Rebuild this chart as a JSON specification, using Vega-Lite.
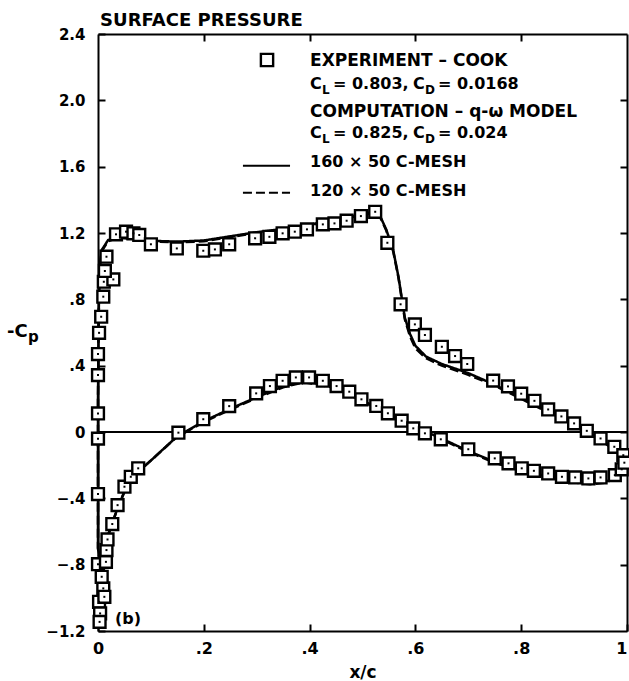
{
  "$schema": "https://vega.github.io/schema/vega-lite/v6.json",
  "width": 529,
  "height": 597,
  "autosize": {"type": "none"},
  "padding": {"left": 98, "top": 34, "right": 2, "bottom": 50},
  "background": "white",
  "config": {
    "view": {"stroke": null},
    "text": {"font": "DejaVu Sans", "fontWeight": "bold", "fontSize": 16, "align": "left", "baseline": "alphabetic", "color": "black"}
  },
  "datasets": {
    "one": [{}],
    "experiment": [
      {"x": 0.000, "y": 0.112}, {"x": 0.000, "y": 0.343}, {"x": 0.000, "y": 0.470}, {"x": 0.002, "y": 0.598},
      {"x": 0.006, "y": 0.695}, {"x": 0.010, "y": 0.816}, {"x": 0.011, "y": 0.906}, {"x": 0.029, "y": 0.920},
      {"x": 0.013, "y": 0.971}, {"x": 0.016, "y": 1.057}, {"x": 0.034, "y": 1.192}, {"x": 0.053, "y": 1.208},
      {"x": 0.067, "y": 1.198}, {"x": 0.078, "y": 1.188}, {"x": 0.100, "y": 1.132}, {"x": 0.149, "y": 1.107},
      {"x": 0.199, "y": 1.093}, {"x": 0.221, "y": 1.101}, {"x": 0.248, "y": 1.132}, {"x": 0.297, "y": 1.168},
      {"x": 0.324, "y": 1.177}, {"x": 0.349, "y": 1.198}, {"x": 0.372, "y": 1.208}, {"x": 0.395, "y": 1.222},
      {"x": 0.425, "y": 1.252}, {"x": 0.447, "y": 1.258}, {"x": 0.470, "y": 1.274}, {"x": 0.497, "y": 1.302},
      {"x": 0.524, "y": 1.328}, {"x": 0.547, "y": 1.141}, {"x": 0.572, "y": 0.770}, {"x": 0.599, "y": 0.649},
      {"x": 0.618, "y": 0.585}, {"x": 0.650, "y": 0.514}, {"x": 0.675, "y": 0.458}, {"x": 0.698, "y": 0.410},
      {"x": 0.747, "y": 0.310}, {"x": 0.775, "y": 0.275}, {"x": 0.800, "y": 0.231}, {"x": 0.825, "y": 0.188},
      {"x": 0.851, "y": 0.136}, {"x": 0.876, "y": 0.094}, {"x": 0.900, "y": 0.052}, {"x": 0.924, "y": 0.007},
      {"x": 0.950, "y": -0.039}, {"x": 0.976, "y": -0.089}, {"x": 0.993, "y": -0.140},
      {"x": 0.000, "y": -0.040}, {"x": 0.000, "y": -0.374}, {"x": 0.000, "y": -0.797}, {"x": 0.002, "y": -1.024},
      {"x": 0.004, "y": -1.094}, {"x": 0.003, "y": -1.145}, {"x": 0.010, "y": -0.943}, {"x": 0.012, "y": -0.994},
      {"x": 0.007, "y": -0.873}, {"x": 0.015, "y": -0.783}, {"x": 0.016, "y": -0.712}, {"x": 0.018, "y": -0.648},
      {"x": 0.027, "y": -0.555}, {"x": 0.037, "y": -0.441}, {"x": 0.050, "y": -0.330}, {"x": 0.062, "y": -0.270},
      {"x": 0.076, "y": -0.219}, {"x": 0.152, "y": -0.004}, {"x": 0.199, "y": 0.077}, {"x": 0.248, "y": 0.156},
      {"x": 0.299, "y": 0.233}, {"x": 0.325, "y": 0.277}, {"x": 0.349, "y": 0.309}, {"x": 0.374, "y": 0.329},
      {"x": 0.399, "y": 0.329}, {"x": 0.425, "y": 0.309}, {"x": 0.451, "y": 0.277}, {"x": 0.475, "y": 0.243},
      {"x": 0.498, "y": 0.197}, {"x": 0.526, "y": 0.157}, {"x": 0.548, "y": 0.113}, {"x": 0.574, "y": 0.068},
      {"x": 0.596, "y": 0.022}, {"x": 0.618, "y": -0.008}, {"x": 0.648, "y": -0.044}, {"x": 0.700, "y": -0.104},
      {"x": 0.750, "y": -0.159}, {"x": 0.776, "y": -0.189}, {"x": 0.801, "y": -0.219}, {"x": 0.824, "y": -0.234},
      {"x": 0.851, "y": -0.250}, {"x": 0.877, "y": -0.270}, {"x": 0.902, "y": -0.274}, {"x": 0.927, "y": -0.280},
      {"x": 0.950, "y": -0.274}, {"x": 0.977, "y": -0.260}, {"x": 0.990, "y": -0.225}, {"x": 0.995, "y": -0.185}
    ],
    "computed": [
      {"mesh": "160", "k": 1, "x": 1.0, "y": -0.2}, {"mesh": "160", "k": 2, "x": 0.98, "y": -0.11},
      {"mesh": "160", "k": 3, "x": 0.95, "y": -0.045}, {"mesh": "160", "k": 4, "x": 0.9, "y": 0.045},
      {"mesh": "160", "k": 5, "x": 0.85, "y": 0.125}, {"mesh": "160", "k": 6, "x": 0.8, "y": 0.205},
      {"mesh": "160", "k": 7, "x": 0.75, "y": 0.285}, {"mesh": "160", "k": 8, "x": 0.7, "y": 0.355},
      {"mesh": "160", "k": 9, "x": 0.65, "y": 0.41}, {"mesh": "160", "k": 10, "x": 0.62, "y": 0.455},
      {"mesh": "160", "k": 11, "x": 0.6, "y": 0.52}, {"mesh": "160", "k": 12, "x": 0.59, "y": 0.59},
      {"mesh": "160", "k": 13, "x": 0.58, "y": 0.69}, {"mesh": "160", "k": 14, "x": 0.568, "y": 0.936},
      {"mesh": "160", "k": 15, "x": 0.558, "y": 1.097}, {"mesh": "160", "k": 16, "x": 0.545, "y": 1.22},
      {"mesh": "160", "k": 17, "x": 0.535, "y": 1.29}, {"mesh": "160", "k": 18, "x": 0.525, "y": 1.335},
      {"mesh": "160", "k": 19, "x": 0.5, "y": 1.31}, {"mesh": "160", "k": 20, "x": 0.47, "y": 1.293},
      {"mesh": "160", "k": 21, "x": 0.4, "y": 1.25}, {"mesh": "160", "k": 22, "x": 0.35, "y": 1.225},
      {"mesh": "160", "k": 23, "x": 0.3, "y": 1.205}, {"mesh": "160", "k": 24, "x": 0.25, "y": 1.18},
      {"mesh": "160", "k": 25, "x": 0.2, "y": 1.155}, {"mesh": "160", "k": 26, "x": 0.15, "y": 1.148},
      {"mesh": "160", "k": 27, "x": 0.1, "y": 1.153}, {"mesh": "160", "k": 28, "x": 0.076, "y": 1.162},
      {"mesh": "160", "k": 29, "x": 0.05, "y": 1.172}, {"mesh": "160", "k": 30, "x": 0.038, "y": 1.177},
      {"mesh": "160", "k": 31, "x": 0.019, "y": 1.157}, {"mesh": "160", "k": 32, "x": 0.007, "y": 1.097},
      {"mesh": "160", "k": 33, "x": 0.004, "y": 1.017}, {"mesh": "160", "k": 34, "x": 0.002, "y": 0.85},
      {"mesh": "160", "k": 35, "x": 0.001, "y": 0.6}, {"mesh": "160", "k": 36, "x": 0.0, "y": 0.2},
      {"mesh": "160", "k": 37, "x": 0.0, "y": -0.3}, {"mesh": "160", "k": 38, "x": 0.0, "y": -0.7},
      {"mesh": "160", "k": 39, "x": 0.002, "y": -0.75}, {"mesh": "160", "k": 40, "x": 0.006, "y": -0.72},
      {"mesh": "160", "k": 41, "x": 0.01, "y": -0.68}, {"mesh": "160", "k": 42, "x": 0.018, "y": -0.632},
      {"mesh": "160", "k": 43, "x": 0.027, "y": -0.55}, {"mesh": "160", "k": 44, "x": 0.038, "y": -0.45},
      {"mesh": "160", "k": 45, "x": 0.05, "y": -0.36}, {"mesh": "160", "k": 46, "x": 0.064, "y": -0.29},
      {"mesh": "160", "k": 47, "x": 0.076, "y": -0.24}, {"mesh": "160", "k": 48, "x": 0.101, "y": -0.169},
      {"mesh": "160", "k": 49, "x": 0.149, "y": -0.028}, {"mesh": "160", "k": 50, "x": 0.2, "y": 0.065},
      {"mesh": "160", "k": 51, "x": 0.25, "y": 0.14}, {"mesh": "160", "k": 52, "x": 0.3, "y": 0.21},
      {"mesh": "160", "k": 53, "x": 0.35, "y": 0.275}, {"mesh": "160", "k": 54, "x": 0.39, "y": 0.305},
      {"mesh": "160", "k": 55, "x": 0.45, "y": 0.27}, {"mesh": "160", "k": 56, "x": 0.5, "y": 0.19},
      {"mesh": "160", "k": 57, "x": 0.55, "y": 0.11}, {"mesh": "160", "k": 58, "x": 0.6, "y": 0.03},
      {"mesh": "160", "k": 59, "x": 0.65, "y": -0.04}, {"mesh": "160", "k": 60, "x": 0.7, "y": -0.115},
      {"mesh": "160", "k": 61, "x": 0.75, "y": -0.18}, {"mesh": "160", "k": 62, "x": 0.8, "y": -0.23},
      {"mesh": "160", "k": 63, "x": 0.85, "y": -0.27}, {"mesh": "160", "k": 64, "x": 0.9, "y": -0.3},
      {"mesh": "160", "k": 65, "x": 0.93, "y": -0.31}, {"mesh": "160", "k": 66, "x": 0.96, "y": -0.3},
      {"mesh": "160", "k": 67, "x": 0.98, "y": -0.27}, {"mesh": "160", "k": 68, "x": 1.0, "y": -0.2},
      {"mesh": "120", "k": 1, "x": 1.0, "y": -0.2}, {"mesh": "120", "k": 2, "x": 0.98, "y": -0.115},
      {"mesh": "120", "k": 3, "x": 0.95, "y": -0.05}, {"mesh": "120", "k": 4, "x": 0.9, "y": 0.04},
      {"mesh": "120", "k": 5, "x": 0.85, "y": 0.12}, {"mesh": "120", "k": 6, "x": 0.8, "y": 0.2},
      {"mesh": "120", "k": 7, "x": 0.75, "y": 0.28}, {"mesh": "120", "k": 8, "x": 0.7, "y": 0.345},
      {"mesh": "120", "k": 9, "x": 0.65, "y": 0.4}, {"mesh": "120", "k": 10, "x": 0.62, "y": 0.445},
      {"mesh": "120", "k": 11, "x": 0.6, "y": 0.505}, {"mesh": "120", "k": 12, "x": 0.59, "y": 0.575},
      {"mesh": "120", "k": 13, "x": 0.58, "y": 0.68}, {"mesh": "120", "k": 14, "x": 0.568, "y": 0.93},
      {"mesh": "120", "k": 15, "x": 0.558, "y": 1.09}, {"mesh": "120", "k": 16, "x": 0.545, "y": 1.215},
      {"mesh": "120", "k": 17, "x": 0.535, "y": 1.285}, {"mesh": "120", "k": 18, "x": 0.525, "y": 1.33},
      {"mesh": "120", "k": 19, "x": 0.5, "y": 1.305}, {"mesh": "120", "k": 20, "x": 0.47, "y": 1.29},
      {"mesh": "120", "k": 21, "x": 0.4, "y": 1.247}, {"mesh": "120", "k": 22, "x": 0.35, "y": 1.222},
      {"mesh": "120", "k": 23, "x": 0.3, "y": 1.2}, {"mesh": "120", "k": 24, "x": 0.25, "y": 1.176},
      {"mesh": "120", "k": 25, "x": 0.2, "y": 1.15}, {"mesh": "120", "k": 26, "x": 0.15, "y": 1.143},
      {"mesh": "120", "k": 27, "x": 0.1, "y": 1.15}, {"mesh": "120", "k": 28, "x": 0.076, "y": 1.16},
      {"mesh": "120", "k": 29, "x": 0.05, "y": 1.168}, {"mesh": "120", "k": 30, "x": 0.038, "y": 1.172},
      {"mesh": "120", "k": 31, "x": 0.019, "y": 1.15}, {"mesh": "120", "k": 32, "x": 0.007, "y": 1.09},
      {"mesh": "120", "k": 33, "x": 0.004, "y": 1.01}, {"mesh": "120", "k": 34, "x": 0.002, "y": 0.84},
      {"mesh": "120", "k": 35, "x": 0.001, "y": 0.6}, {"mesh": "120", "k": 36, "x": 0.0, "y": 0.2},
      {"mesh": "120", "k": 37, "x": 0.0, "y": -0.3}, {"mesh": "120", "k": 38, "x": 0.0, "y": -0.7},
      {"mesh": "120", "k": 39, "x": 0.002, "y": -0.75}, {"mesh": "120", "k": 40, "x": 0.006, "y": -0.72},
      {"mesh": "120", "k": 41, "x": 0.01, "y": -0.68}, {"mesh": "120", "k": 42, "x": 0.018, "y": -0.632},
      {"mesh": "120", "k": 43, "x": 0.027, "y": -0.55}, {"mesh": "120", "k": 44, "x": 0.038, "y": -0.45},
      {"mesh": "120", "k": 45, "x": 0.05, "y": -0.36}, {"mesh": "120", "k": 46, "x": 0.064, "y": -0.29},
      {"mesh": "120", "k": 47, "x": 0.076, "y": -0.24}, {"mesh": "120", "k": 48, "x": 0.101, "y": -0.169},
      {"mesh": "120", "k": 49, "x": 0.149, "y": -0.03}, {"mesh": "120", "k": 50, "x": 0.2, "y": 0.06},
      {"mesh": "120", "k": 51, "x": 0.25, "y": 0.135}, {"mesh": "120", "k": 52, "x": 0.3, "y": 0.205},
      {"mesh": "120", "k": 53, "x": 0.35, "y": 0.27}, {"mesh": "120", "k": 54, "x": 0.39, "y": 0.3},
      {"mesh": "120", "k": 55, "x": 0.45, "y": 0.265}, {"mesh": "120", "k": 56, "x": 0.5, "y": 0.185},
      {"mesh": "120", "k": 57, "x": 0.55, "y": 0.105}, {"mesh": "120", "k": 58, "x": 0.6, "y": 0.025},
      {"mesh": "120", "k": 59, "x": 0.65, "y": -0.045}, {"mesh": "120", "k": 60, "x": 0.7, "y": -0.12},
      {"mesh": "120", "k": 61, "x": 0.75, "y": -0.185}, {"mesh": "120", "k": 62, "x": 0.8, "y": -0.235},
      {"mesh": "120", "k": 63, "x": 0.85, "y": -0.275}, {"mesh": "120", "k": 64, "x": 0.9, "y": -0.305},
      {"mesh": "120", "k": 65, "x": 0.93, "y": -0.315}, {"mesh": "120", "k": 66, "x": 0.96, "y": -0.305},
      {"mesh": "120", "k": 67, "x": 0.98, "y": -0.275}, {"mesh": "120", "k": 68, "x": 1.0, "y": -0.2}
    ]
  },
  "resolve": {"axis": {"x": "independent", "y": "independent"}},
  "layer": [
    {
      "data": {"name": "computed"},
      "mark": {"type": "line", "color": "black", "strokeWidth": 2.5},
      "encoding": {
        "x": {"field": "x", "type": "quantitative", "scale": {"domain": [0, 1], "nice": false, "zero": false},
          "axis": {"orient": "bottom", "values": [0, 0.2, 0.4, 0.6, 0.8, 1], "grid": false, "tickSize": -7, "tickWidth": 2, "tickColor": "black", "domainColor": "black", "domainWidth": 2,
            "labelFont": "DejaVu Sans", "labelFontWeight": "bold", "labelFontSize": 16, "labelColor": "black", "labelPadding": 16, "labelFlush": false,
            "labelAlign": {"condition": {"test": "datum.value == 1", "value": "right"}, "value": "center"},
            "labelExpr": "datum.value == 0 ? '0' : datum.value == 1 ? '1' : replace(format(datum.value, '.1f'), '0.', '.')",
            "title": "x/c", "titleFont": "DejaVu Sans", "titleFontSize": 17, "titleFontWeight": "bold", "titleColor": "black", "titlePadding": 8}},
        "y": {"field": "y", "type": "quantitative", "scale": {"domain": [-1.2, 2.4], "nice": false, "zero": false},
          "axis": {"orient": "left", "values": [-1.2, -0.8, -0.4, 0, 0.4, 0.8, 1.2, 1.6, 2.0, 2.4], "grid": false, "tickSize": -7, "tickWidth": 2, "tickColor": "black", "domainColor": "black", "domainWidth": 2,
            "labelFont": "DejaVu Sans", "labelFontWeight": "bold", "labelFontSize": 15, "labelColor": "black", "labelPadding": 20, "labelFlush": false,
            "labelExpr": "datum.value == 0 ? '0' : replace(format(datum.value, '.1f'), '0.', '.')",
            "title": null}},
        "order": {"field": "k", "type": "quantitative"},
        "detail": {"field": "mesh"},
        "strokeDash": {"field": "mesh", "type": "nominal", "scale": {"domain": ["160", "120"], "range": [[1, 0], [9, 4]]}, "legend": null}
      }
    },
    {
      "data": {"name": "one"},
      "mark": {"type": "rule", "color": "black", "strokeWidth": 2},
      "encoding": {"y": {"datum": 0, "axis": null}}
    },
    {
      "data": {"name": "experiment"},
      "mark": {"type": "point", "shape": "square", "filled": false, "fill": "white", "fillOpacity": 1, "stroke": "black", "strokeWidth": 2.4, "size": 140, "opacity": 1},
      "encoding": {
        "x": {"field": "x", "type": "quantitative", "axis": {"orient": "top", "values": [0.2, 0.4, 0.6, 0.8], "grid": false, "labels": false, "title": null, "tickSize": -7, "tickWidth": 2, "tickColor": "black", "domainColor": "black", "domainWidth": 2}},
        "y": {"field": "y", "type": "quantitative", "axis": {"orient": "right", "values": [-0.8, -0.4, 0, 0.4, 0.8, 1.2, 1.6, 2.0], "grid": false, "labels": false, "title": null, "tickSize": -7, "tickWidth": 2, "tickColor": "black", "domainColor": "black", "domainWidth": 2}}
      }
    },
    {
      "data": {"name": "experiment"},
      "mark": {"type": "point", "shape": "square", "filled": true, "color": "black", "size": 4, "opacity": 1},
      "encoding": {
        "x": {"field": "x", "type": "quantitative", "axis": null},
        "y": {"field": "y", "type": "quantitative", "axis": null}
      }
    },
    {
      "data": {"name": "one"},
      "mark": {"type": "point", "shape": "square", "filled": false, "fill": "white", "fillOpacity": 1, "stroke": "black", "strokeWidth": 2.4, "size": 150, "opacity": 1},
      "encoding": {"x": {"datum": 0.3195, "axis": null}, "y": {"datum": 2.243, "axis": null}}
    },
    {
      "data": {"name": "one"},
      "mark": {"type": "rule", "color": "black", "strokeWidth": 2},
      "encoding": {"x": {"datum": 0.274, "axis": null}, "x2": {"datum": 0.363}, "y": {"datum": 1.606, "axis": null}}
    },
    {
      "data": {"name": "one"},
      "mark": {"type": "rule", "color": "black", "strokeWidth": 2, "strokeDash": [9, 4]},
      "encoding": {"x": {"datum": 0.274, "axis": null}, "x2": {"datum": 0.363}, "y": {"datum": 1.443, "axis": null}}
    },
    {"data": {"name": "one"}, "mark": {"type": "text", "text": "SURFACE PRESSURE", "fontSize": 18}, "encoding": {"x": {"datum": 0.004, "axis": null}, "y": {"datum": 2.448, "axis": null}}},
    {"data": {"name": "one"}, "mark": {"type": "text", "text": "EXPERIMENT – COOK", "fontSize": 17}, "encoding": {"x": {"datum": 0.4008, "axis": null}, "y": {"datum": 2.207, "axis": null}}},
    {"data": {"name": "one"}, "mark": {"type": "text", "text": "C"}, "encoding": {"x": {"datum": 0.4008, "axis": null}, "y": {"datum": 2.0665, "axis": null}}},
    {"data": {"name": "one"}, "mark": {"type": "text", "text": "L", "fontSize": 12}, "encoding": {"x": {"datum": 0.4234, "axis": null}, "y": {"datum": 2.038, "axis": null}}},
    {"data": {"name": "one"}, "mark": {"type": "text", "text": "= 0.803,"}, "encoding": {"x": {"datum": 0.4442, "axis": null}, "y": {"datum": 2.0665, "axis": null}}},
    {"data": {"name": "one"}, "mark": {"type": "text", "text": "C"}, "encoding": {"x": {"datum": 0.5955, "axis": null}, "y": {"datum": 2.0665, "axis": null}}},
    {"data": {"name": "one"}, "mark": {"type": "text", "text": "D", "fontSize": 12}, "encoding": {"x": {"datum": 0.6182, "axis": null}, "y": {"datum": 2.038, "axis": null}}},
    {"data": {"name": "one"}, "mark": {"type": "text", "text": "= 0.0168"}, "encoding": {"x": {"datum": 0.6427, "axis": null}, "y": {"datum": 2.0665, "axis": null}}},
    {"data": {"name": "one"}, "mark": {"type": "text", "text": "COMPUTATION – q-ω MODEL", "fontSize": 17}, "encoding": {"x": {"datum": 0.4008, "axis": null}, "y": {"datum": 1.8976, "axis": null}}},
    {"data": {"name": "one"}, "mark": {"type": "text", "text": "C"}, "encoding": {"x": {"datum": 0.4008, "axis": null}, "y": {"datum": 1.771, "axis": null}}},
    {"data": {"name": "one"}, "mark": {"type": "text", "text": "L", "fontSize": 12}, "encoding": {"x": {"datum": 0.4234, "axis": null}, "y": {"datum": 1.7426, "axis": null}}},
    {"data": {"name": "one"}, "mark": {"type": "text", "text": "= 0.825,"}, "encoding": {"x": {"datum": 0.4442, "axis": null}, "y": {"datum": 1.771, "axis": null}}},
    {"data": {"name": "one"}, "mark": {"type": "text", "text": "C"}, "encoding": {"x": {"datum": 0.5955, "axis": null}, "y": {"datum": 1.771, "axis": null}}},
    {"data": {"name": "one"}, "mark": {"type": "text", "text": "D", "fontSize": 12}, "encoding": {"x": {"datum": 0.6182, "axis": null}, "y": {"datum": 1.7426, "axis": null}}},
    {"data": {"name": "one"}, "mark": {"type": "text", "text": "= 0.024"}, "encoding": {"x": {"datum": 0.6427, "axis": null}, "y": {"datum": 1.771, "axis": null}}},
    {"data": {"name": "one"}, "mark": {"type": "text", "text": "160 × 50 C-MESH"}, "encoding": {"x": {"datum": 0.4008, "axis": null}, "y": {"datum": 1.596, "axis": null}}},
    {"data": {"name": "one"}, "mark": {"type": "text", "text": "120 × 50 C-MESH"}, "encoding": {"x": {"datum": 0.4008, "axis": null}, "y": {"datum": 1.425, "axis": null}}},
    {"data": {"name": "one"}, "mark": {"type": "text", "text": "(b)"}, "encoding": {"x": {"datum": 0.032, "axis": null}, "y": {"datum": -1.158, "axis": null}}},
    {"data": {"name": "one"}, "mark": {"type": "text", "text": "-C", "fontSize": 18}, "encoding": {"x": {"datum": -0.172, "axis": null}, "y": {"datum": 0.5725, "axis": null}}},
    {"data": {"name": "one"}, "mark": {"type": "text", "text": "p", "fontSize": 15}, "encoding": {"x": {"datum": -0.1323, "axis": null}, "y": {"datum": 0.5425, "axis": null}}}
  ]
}
